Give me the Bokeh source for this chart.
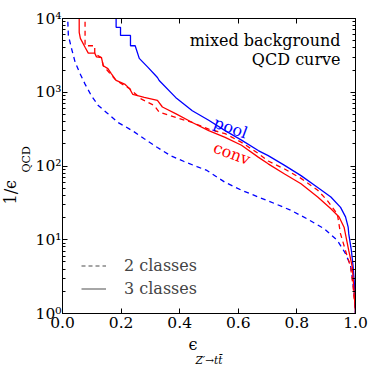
from bokeh.plotting import figure
from bokeh.models import (FixedTicker, LogAxis, LinearAxis, Label, Legend, LegendItem,
                          Range1d, PrintfTickFormatter, Title)
from bokeh.embed import file_html
from bokeh.resources import INLINE

# ---- data (efficiency of Z'->tt vs. QCD rejection 1/eps_QCD) ----
pool3_eff = [0.183, 0.183, 0.198, 0.198, 0.232, 0.232, 0.248, 0.262, 0.291, 0.324, 0.330,
             0.386, 0.443, 0.499, 0.555, 0.611, 0.668, 0.702, 0.758, 0.814, 0.871, 0.916,
             0.949, 0.966, 0.975, 0.977, 0.986, 0.992, 0.997, 1.0]
pool3_rej = [12000, 7590, 7590, 5890, 5890, 4270, 4270, 2880, 2190, 1585, 1445,
             851, 562, 417, 302, 224, 162, 138, 102, 74, 51, 38,
             27.5, 20.4, 14.8, 12.0, 7.1, 4.3, 2.3, 1.0]

conv3_eff = [0.057, 0.057, 0.061, 0.077, 0.088, 0.110, 0.116, 0.133, 0.139, 0.155, 0.167,
             0.183, 0.212, 0.229, 0.240, 0.279, 0.324, 0.341, 0.386, 0.443, 0.499, 0.555,
             0.611, 0.668, 0.702, 0.758, 0.814, 0.871, 0.916, 0.944, 0.961, 0.977, 0.989,
             0.994, 1.0]
conv3_rej = [12000, 6500, 5370, 4070, 3390, 3390, 3020, 2950, 2290, 2090, 1780,
             1445, 1290, 1120, 933, 851, 776, 631, 513, 389, 302, 245,
             191, 132, 107, 78, 57.5, 38, 26.3, 20.4, 14.8, 7.1, 4.3,
             2.3, 1.0]

conv2_eff = [0.077, 0.077, 0.110, 0.110, 0.133, 0.139, 0.183, 0.229, 0.268, 0.313, 0.330,
             0.386, 0.443, 0.499, 0.555, 0.611, 0.668, 0.702, 0.758, 0.814, 0.871, 0.904,
             0.938, 0.949, 0.966, 0.983, 0.992, 1.0]
conv2_rej = [12000, 4270, 4270, 3310, 2950, 2290, 1445, 1120, 813, 661, 537,
             457, 389, 316, 275, 209, 148, 117, 91, 68, 47, 34,
             22.4, 12.0, 7.1, 4.3, 2.3, 1.0]

pool2_eff = [0.017, 0.020, 0.031, 0.043, 0.060, 0.077, 0.099, 0.122, 0.155, 0.189, 0.212,
             0.246, 0.279, 0.324, 0.369, 0.415, 0.459, 0.493, 0.555, 0.611, 0.668, 0.724,
             0.780, 0.837, 0.893, 0.938, 0.966, 0.983, 0.989, 0.995, 1.0]
pool2_rej = [12000, 5890, 3890, 2570, 1780, 1290, 891, 661, 513, 389, 347,
             288, 234, 178, 138, 115, 98, 87, 60, 47, 38, 31,
             25, 19, 14.1, 9.8, 6.5, 4.5, 3.1, 1.9, 1.0]

x_ticks = [0.0, 0.2, 0.4, 0.6, 0.8, 1.0]
y_ticks = [1, 10, 100, 1000, 10000]
y_tick_labels = ["10\u2070", "10\u00b9", "10\u00b2", "10\u00b3", "10\u2074"]

FONT = "DejaVu Serif"
BLUE = "#0000ff"
RED = "#ff0000"
NAN = float("nan")

p = figure(width=374, height=374, y_axis_type="log", output_backend="svg",
           toolbar_location=None, x_range=Range1d(0, 1), y_range=Range1d(1, 10000),
           min_border_left=59, min_border_right=19, min_border_top=18, min_border_bottom=61)
p.grid.visible = False
p.outline_line_color = "black"
p.outline_line_width = 1
p.background_fill_color = "white"

minor = [m * d for d in [1, 10, 100, 1000] for m in range(2, 10)]
yt = FixedTicker(ticks=y_ticks, minor_ticks=minor)
xt = FixedTicker(ticks=x_ticks, minor_ticks=[])

def style(ax, labels=True):
    ax.major_tick_in = 5
    ax.major_tick_out = 0
    ax.minor_tick_in = 3
    ax.minor_tick_out = 0
    ax.axis_line_color = "black"
    ax.major_tick_line_color = "black"
    ax.minor_tick_line_color = "black"
    ax.major_label_text_font = FONT
    ax.major_label_text_color = "black"
    if labels:
        ax.major_label_text_font_size = "15.5px"
    else:
        ax.major_label_text_font_size = "2px"
        ax.major_label_text_alpha = 0
        ax.major_label_standoff = 0

p.xaxis.ticker = xt
p.xaxis.formatter = PrintfTickFormatter(format="%.1f")
p.yaxis.ticker = yt
p.yaxis.major_label_overrides = {t: l for t, l in zip(y_ticks, y_tick_labels)}
style(p.xaxis[0])
style(p.yaxis[0])
p.xaxis.major_label_standoff = 3
p.yaxis.major_label_standoff = 1

ra = LogAxis(ticker=yt)
style(ra, labels=False)
p.add_layout(ra, "right")
ta = LinearAxis(ticker=xt)
style(ta, labels=False)
p.add_layout(ta, "above")

p.line(pool2_eff, pool2_rej, color=BLUE, line_width=1.3, line_dash="5 4")
p.line(conv2_eff, conv2_rej, color=RED, line_width=1.3, line_dash="5 4")
p.line(pool3_eff, pool3_rej, color=BLUE, line_width=1.3)
p.line(conv3_eff, conv3_rej, color=RED, line_width=1.3)

# legend proxies (style only, no visible data)
d = p.line([NAN], [NAN], color="#888888", line_width=1.5, line_dash="4 3")
s = p.line([NAN], [NAN], color="#888888", line_width=1.5)
leg = Legend(items=[LegendItem(label="2 classes", renderers=[d]),
                    LegendItem(label="3 classes", renderers=[s])],
             location=(19, 13), border_line_alpha=0, background_fill_alpha=0,
             label_text_font=FONT, label_text_font_size="16px",
             glyph_width=25, glyph_height=23, label_height=23, spacing=0,
             label_standoff=18, padding=0, margin=0)
p.add_layout(leg, "center")

def lab(x, y, text, size="16px", color="black", align="left", angle=0.0):
    p.add_layout(Label(x=x, y=y, text=text, text_font=FONT, text_font_size=size,
                       text_color=color, text_align=align, text_baseline="middle",
                       angle=angle))

lab(0.949, 10 ** 3.70, "mixed background", align="right")
lab(0.949, 10 ** 3.44, "QCD curve", align="right")
lab(0.574, 10 ** 2.52, "pool", color=BLUE, align="center", angle=-0.35)
lab(0.578, 10 ** 2.17, "conv", color=RED, align="center", angle=-0.35)

def side_title(text, place, size, offset, standoff, italic=False, valign="bottom"):
    t = Title(text=text, align="left", offset=offset, standoff=standoff,
              vertical_align=valign,
              text_font=FONT, text_font_size=size, text_font_style="italic" if italic else "normal",
              text_color="black")
    p.add_layout(t, place)

# x axis label: eps_{Z' -> t tbar}
side_title("\u03f5", "below", "16px", 126, 5)
side_title("Z\u2032\u2192tt\u0304", "below", "10.5px", 133, -9, italic=True)
# y axis label: 1/eps_QCD  (subscript closer to the axis)
side_title("QCD", "left", "11px", 141, 0)
side_title("1/\u03f5", "left", "16px", 109, -4)

open("out.html", "w").write(file_html(p, INLINE))
